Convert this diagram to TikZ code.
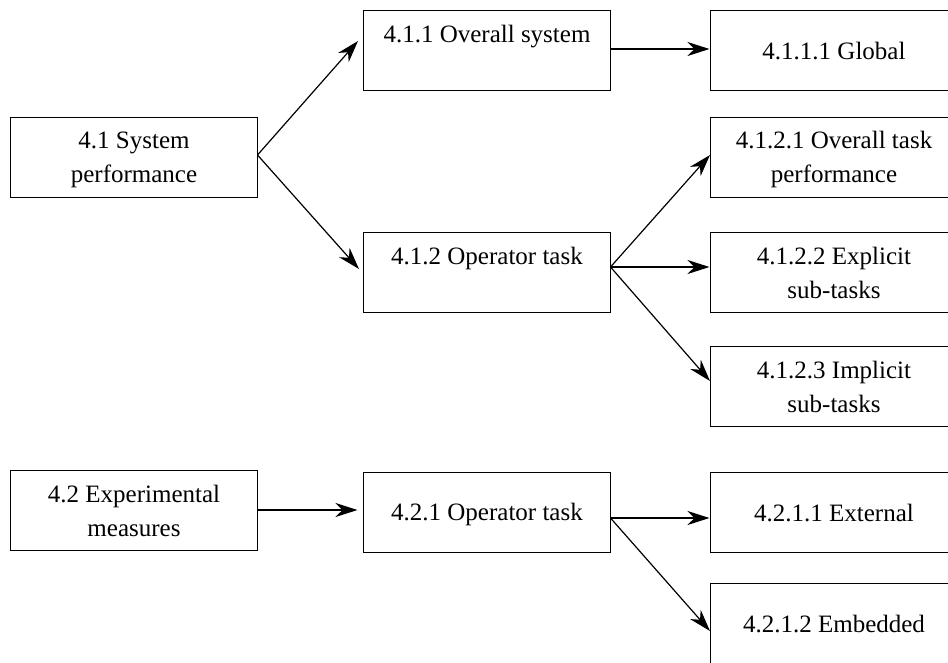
\documentclass[tikz,border=0pt]{standalone}
\usepackage{fontspec}
\setmainfont{Liberation Serif}
\usetikzlibrary{arrows.meta}

% invisible rule fixing each text line to 22pt height and 4pt depth
\newcommand\lnstrut{\rule[-4pt]{0pt}{26pt}}

\tikzset{
  topic/.style={draw, line width=1.5pt, minimum width=247pt, minimum height=80pt,
    inner sep=0pt, outer sep=0pt, align=center,
    font=\fontsize{25}{34}\selectfont},
  link/.style={line width=1.2pt, -{Stealth[length=22pt,width=14pt,inset=7pt]}}
}

\begin{document}
\begin{tikzpicture}[x=1pt, y=-1pt]
  \clip (0,0) rectangle (948,662);

  % first branch: system performance
  \node[topic] (sys)      at (134,157.5) {\lnstrut 4.1 System\\\lnstrut performance};
  \node[topic] (overall)  at (487,50.5)  {\lnstrut 4.1.1 Overall system\\\lnstrut};
  \node[topic] (global)   at (834,50.5)  {\lnstrut 4.1.1.1 Global};
  \node[topic] (optask)   at (487,272.5) {\lnstrut 4.1.2 Operator task\\\lnstrut};
  \node[topic] (taskperf) at (834,157.5) {\lnstrut 4.1.2.1 Overall task\\\lnstrut performance};
  \node[topic] (explicit) at (834,272.5) {\lnstrut 4.1.2.2 Explicit\\\lnstrut sub-tasks};
  \node[topic] (implicit) at (834,386.5) {\lnstrut 4.1.2.3 Implicit\\\lnstrut sub-tasks};

  % second branch: experimental measures
  \node[topic] (expm)     at (134,510.5) {\lnstrut 4.2 Experimental\\\lnstrut measures};
  \node[topic] (optaskb)  at (487,512.5) {\lnstrut 4.2.1 Operator task};
  \node[topic] (external) at (834,512.5) {\lnstrut 4.2.1.1 External};
  \node[topic] (embedded) at (834,623.5) {\lnstrut 4.2.1.2 Embedded};

  % connectors
  \draw[link] ([yshift=2.5pt]sys.east) -- ([xshift=-5.5pt,yshift=9.5pt]overall.west);
  \draw[link] ([yshift=2.5pt]sys.east) -- ([xshift=-4.5pt,yshift=3.5pt]optask.west);
  \draw[link] ([yshift=1.5pt]overall.east) -- ([xshift=-1pt,yshift=1.5pt]global.west);
  \draw[link] ([yshift=5.5pt]optask.east) -- ([xshift=-0.5pt,yshift=2.5pt]taskperf.west);
  \draw[link] ([yshift=5.5pt]optask.east) -- ([xshift=-1pt,yshift=5.5pt]explicit.west);
  \draw[link] ([yshift=5.5pt]optask.east) -- ([xshift=-0.5pt,yshift=5.5pt]implicit.west);
  \draw[link] ([yshift=0.5pt]expm.east) -- ([xshift=-6pt,yshift=2.5pt]optaskb.west);
  \draw[link] ([yshift=-5.5pt]optaskb.east) -- ([xshift=-1pt,yshift=-5.5pt]external.west);
  \draw[link] ([yshift=-5.5pt]optaskb.east) -- ([xshift=-0.5pt,yshift=-7.5pt]embedded.west);
\end{tikzpicture}
\end{document}
